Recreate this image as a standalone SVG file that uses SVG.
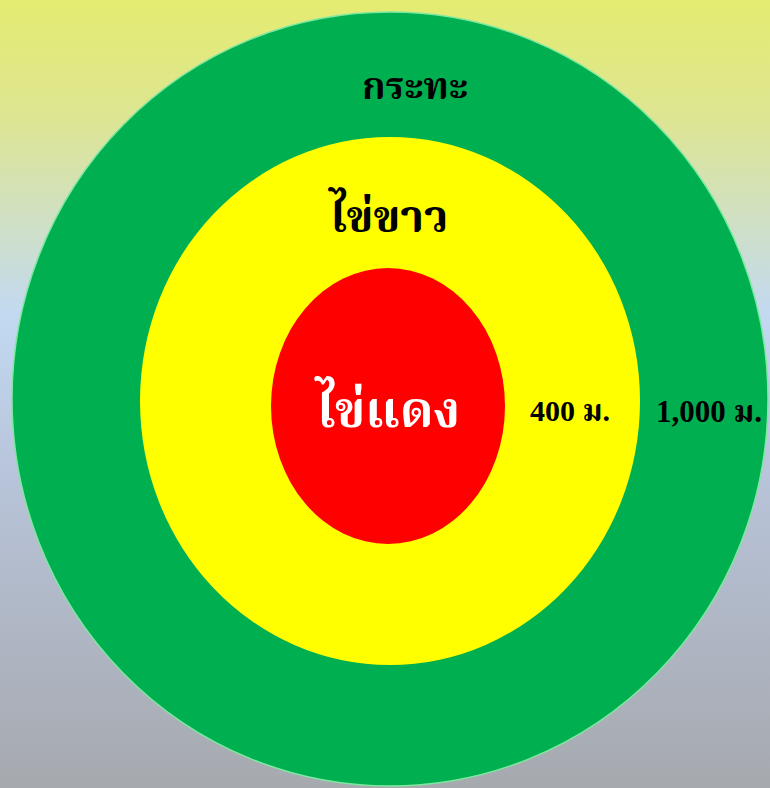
<svg xmlns="http://www.w3.org/2000/svg" width="770" height="788" viewBox="0 0 770 788">
<defs>
<linearGradient id="bg" x1="0" y1="0" x2="0" y2="1">
<stop offset="0" stop-color="#e4ec70"/>
<stop offset="0.15" stop-color="#dde593"/>
<stop offset="0.28" stop-color="#d0e0c4"/>
<stop offset="0.40" stop-color="#c2d9f2"/>
<stop offset="0.60" stop-color="#b8c4da"/>
<stop offset="1" stop-color="#a6a9ae"/>
</linearGradient>
</defs>
<style>
.t{font-family:"Noto Serif Thai","Noto Sans Thai","Liberation Serif","DejaVu Serif",serif;font-weight:bold;text-anchor:middle}
.n{font-family:"Liberation Serif","Noto Serif Thai","Noto Sans Thai",serif;font-weight:bold;text-anchor:middle}
.d{fill:#000}
.w{fill:#fff}
</style>
<rect width="770" height="788" fill="url(#bg)"/>
<g id="green">
<ellipse cx="390" cy="399" rx="378" ry="387" fill="#00b050" stroke="#7ee8a0" stroke-width="1.5"/>
<text class="t d" x="415" y="99" font-size="37.5">กระทะ</text>
<text class="n d" x="709" y="422" font-size="31">1,000 ม.</text>
</g>
<g id="yellow">
<ellipse cx="390" cy="401" rx="250" ry="264" fill="#ffff00"/>
<text class="t d" x="389" y="232" font-size="45">ไข่ขาว</text>
<text class="n d" x="570" y="421" font-size="30">400 ม.</text>
</g>
<g id="red">
<ellipse cx="388" cy="406" rx="117" ry="138" fill="#ff0000"/>
<text class="t w" x="388" y="427" font-size="50.5">ไข่แดง</text>
</g>
<g id="connectors"/>
</svg>
